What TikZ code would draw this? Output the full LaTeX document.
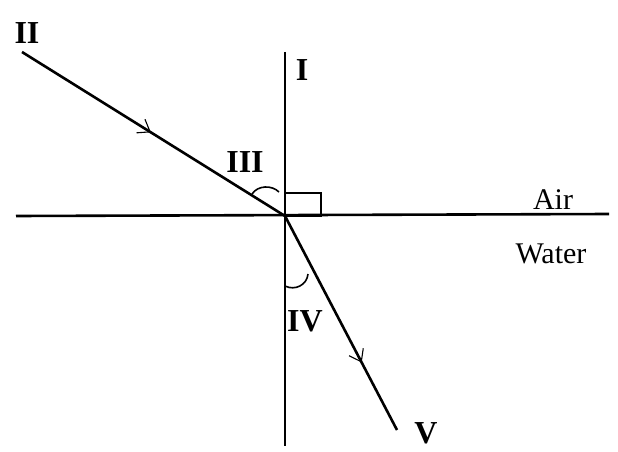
\documentclass[tikz,border=0pt]{standalone}
\usepackage{fontspec}
\setmainfont{Liberation Serif}
\usetikzlibrary{arrows.meta,decorations.markings}
\begin{document}
\begin{tikzpicture}[x=1pt,y=-1pt,
  ray/.style={line width=2.6pt},
  axis/.style={line width=2.6pt},
  midarrow/.style={postaction={decorate},decoration={markings,
     mark=at position #1 with {\arrow[line width=1.1pt]{Straight Barb[length=11pt,width=16pt]}}}},
  roman/.style={font=\fontsize{32}{34}\selectfont\bfseries, inner sep=0pt},
  medium/.style={font=\fontsize{30}{32}\selectfont, inner sep=0pt},
  anglemark/.style={line width=1.6pt}]
\useasboundingbox[fill=white] (0,0) rectangle (618,452);
% points
\coordinate (O) at (285,216);
\coordinate (Ltop) at (285,52);
\coordinate (Lbot) at (285,446);
\coordinate (Hleft) at (16,216);
\coordinate (Hright) at (609,214);
\coordinate (S) at (22,52);
\coordinate (E) at (397,430);
% lines
\draw[axis] (Ltop) -- (Lbot);
\draw[axis] (Hleft) -- (Hright);
\draw[ray, midarrow=0.49] (S) -- (O);
\draw[ray, midarrow=0.685] (O) -- (E);
% right angle box
\draw[line width=2.3pt] (285,193) rectangle (321,216);
% angle marks
\draw[anglemark] (252,194) .. controls (258,185) and (272,185) .. (279,192);
\draw[anglemark] (285,286) .. controls (295,291) and (307,285) .. (308,274);
% labels
\node[roman] (lII) at (27,33) {II};
\node[roman] (lI) at (302,70) {I};
\node[roman] (lIII) at (245,162) {III};
\node[roman] (lIV) at (305,321) {IV};
\node[roman] (lV) at (426,433) {V};
\node[medium] (air) at (553,200) {Air};
\node[medium] (water) at (551,254) {Water};
\end{tikzpicture}
\end{document}
